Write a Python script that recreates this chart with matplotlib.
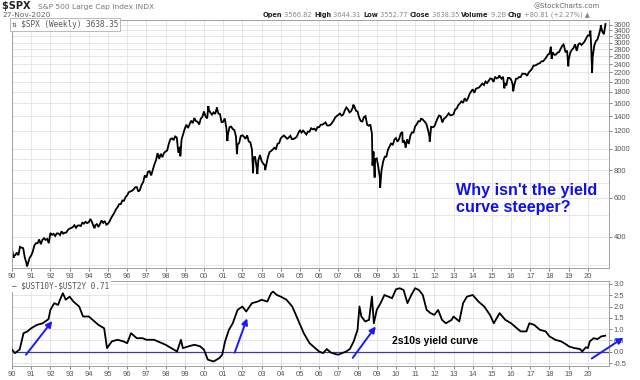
import numpy as np
import matplotlib
matplotlib.use('Agg')
import matplotlib.pyplot as plt

# S&P 500 month-end closes, Jan 1990 .. Nov 2020
spx_monthly = [
    329, 331, 340, 331, 361, 358, 356, 323, 306, 304, 322, 330,
    344, 367, 375, 375, 390, 371, 388, 395, 388, 392, 375, 417,
    409, 413, 404, 415, 415, 408, 424, 414, 418, 419, 431, 436,
    439, 443, 452, 440, 450, 451, 448, 464, 459, 468, 462, 466,
    482, 467, 446, 451, 457, 444, 458, 475, 463, 472, 454, 459,
    470, 487, 501, 515, 533, 545, 562, 562, 584, 582, 605, 616,
    636, 641, 646, 654, 669, 671, 640, 652, 687, 705, 757, 741,
    786, 791, 757, 801, 848, 885, 954, 899, 947, 915, 955, 970,
    980, 1049, 1102, 1112, 1091, 1134, 1121, 957, 1017, 1099, 1164, 1229,
    1280, 1238, 1286, 1335, 1302, 1373, 1329, 1320, 1283, 1363, 1389, 1469,
    1394, 1366, 1499, 1452, 1421, 1455, 1431, 1518, 1437, 1429, 1315, 1320,
    1366, 1240, 1160, 1249, 1256, 1224, 1211, 1134, 1041, 1060, 1139, 1148,
    1130, 1107, 1147, 1077, 1067, 990, 912, 916, 815, 886, 936, 880,
    856, 841, 848, 917, 964, 975, 990, 1008, 996, 1051, 1058, 1112,
    1131, 1145, 1126, 1107, 1121, 1141, 1102, 1104, 1115, 1130, 1174, 1212,
    1181, 1204, 1181, 1157, 1192, 1191, 1234, 1220, 1229, 1207, 1249, 1248,
    1280, 1281, 1295, 1311, 1270, 1270, 1277, 1304, 1336, 1378, 1401, 1418,
    1438, 1407, 1421, 1482, 1531, 1503, 1455, 1474, 1527, 1549, 1481, 1468,
    1379, 1331, 1323, 1386, 1400, 1280, 1267, 1283, 1166, 969, 896, 903,
    826, 735, 798, 873, 919, 919, 987, 1021, 1057, 1036, 1096, 1115,
    1074, 1104, 1169, 1187, 1089, 1031, 1102, 1049, 1141, 1183, 1181, 1258,
    1286, 1327, 1326, 1364, 1345, 1321, 1292, 1219, 1131, 1253, 1247, 1258,
    1312, 1366, 1408, 1398, 1310, 1362, 1379, 1407, 1441, 1412, 1416, 1426,
    1498, 1515, 1569, 1598, 1631, 1606, 1686, 1633, 1682, 1757, 1806, 1848,
    1783, 1859, 1872, 1884, 1924, 1960, 1931, 2003, 1972, 2018, 2068, 2059,
    1995, 2105, 2068, 2086, 2107, 2063, 2104, 1972, 1920, 2079, 2080, 2044,
    1940, 1932, 2060, 2065, 2097, 2099, 2174, 2171, 2168, 2126, 2199, 2239,
    2279, 2364, 2363, 2384, 2412, 2423, 2470, 2472, 2519, 2575, 2648, 2674,
    2824, 2714, 2641, 2648, 2705, 2718, 2816, 2902, 2914, 2712, 2760, 2507,
    2704, 2784, 2834, 2946, 2752, 2942, 2980, 2926, 2977, 3038, 3141, 3231,
    3226, 2954, 2585, 2912, 3044, 3100, 3271, 3500, 3363, 3270, 3638,
]
# intra-month extremes (decimal year, level)
spx_extra_t = [1990.0, 1990.08, 1990.78, 1994.30, 1998.77, 2000.23, 2000.67,
               2001.22, 2001.72, 2002.56, 2002.78, 2003.19, 2007.78, 2008.78,
               2008.89, 2009.18, 2010.35, 2010.50, 2011.33, 2011.76, 2015.39,
               2015.65, 2016.11, 2018.07, 2018.11, 2018.73, 2018.98, 2020.13,
               2020.22, 2020.67]
spx_extra_v = [353, 322, 295, 438, 923, 1553, 1530,
               1081, 944, 775, 768, 800, 1576, 839,
               741, 667, 1066, 1011, 1370, 1075, 2134,
               1867, 1810, 2872, 2533, 2940, 2346, 3393,
               2192, 3588]

# 10y - 2y Treasury spread
spread_t = [1990.0, 1990.15, 1990.4, 1990.6, 1990.8, 1991.0, 1991.3, 1991.6, 1991.9,
            1992.0, 1992.2, 1992.4, 1992.5, 1992.65, 1992.8, 1993.0, 1993.2, 1993.5,
            1993.7, 1994.0, 1994.2, 1994.5, 1994.8, 1994.95, 1995.2, 1995.5, 1995.8,
            1996.0, 1996.2, 1996.5, 1996.8, 1997.0, 1997.4, 1997.8, 1998.0, 1998.3,
            1998.6, 1998.8, 1998.9, 1999.2, 1999.5, 1999.8, 2000.0, 2000.2, 2000.5,
            2000.8, 2000.95, 2001.1, 2001.3, 2001.5, 2001.75, 2002.0, 2002.2, 2002.5,
            2002.8, 2003.0, 2003.3, 2003.5, 2003.6, 2003.8, 2004.0, 2004.3, 2004.6,
            2004.9, 2005.2, 2005.5, 2005.8, 2006.0, 2006.2, 2006.4, 2006.6, 2006.8,
            2007.0, 2007.2, 2007.4, 2007.6, 2007.8, 2008.0, 2008.1, 2008.2, 2008.4,
            2008.6, 2008.75, 2008.85, 2009.0, 2009.2, 2009.4, 2009.6, 2009.8, 2010.0,
            2010.2, 2010.4, 2010.6, 2010.8, 2011.0, 2011.2, 2011.4, 2011.6, 2011.8,
            2012.0, 2012.2, 2012.4, 2012.6, 2012.9, 2013.0, 2013.3, 2013.5, 2013.7,
            2014.0, 2014.3, 2014.6, 2014.9, 2015.1, 2015.4, 2015.7, 2016.0, 2016.3,
            2016.5, 2016.8, 2016.95, 2017.2, 2017.5, 2017.8, 2018.0, 2018.3, 2018.6,
            2018.9, 2019.0, 2019.3, 2019.6, 2019.7, 2019.9, 2020.0, 2020.1, 2020.3,
            2020.5, 2020.7, 2020.9]
spread_v = [0.09, -0.06, 0.10, 0.82, 0.90, 1.04, 1.19, 1.26, 1.44,
            1.85, 2.15, 2.07, 2.30, 2.59, 2.30, 2.44, 2.22, 2.00,
            1.56, 1.56, 1.41, 1.19, 1.04, 0.16, 0.46, 0.53, 0.46,
            0.38, 0.82, 0.60, 0.60, 0.53, 0.53, 0.38, 0.31, 0.16,
            0.01, 0.53, 0.16, 0.24, 0.31, 0.24, 0.09, -0.35, -0.43,
            -0.28, -0.13, 0.46, 0.97, 1.26, 1.85, 2.00, 1.78, 2.15,
            2.22, 2.30, 2.22, 2.59, 2.66, 2.51, 2.44, 2.30, 2.00,
            1.41, 0.82, 0.38, 0.16, 0.01, -0.06, 0.12, -0.03, -0.09,
            -0.13, -0.06, 0.01, 0.12, 0.46, 0.97, 2.00, 1.56, 1.34,
            1.41, 2.44, 1.26, 1.85, 2.15, 2.51, 2.44, 2.37, 2.76,
            2.81, 2.73, 2.15, 2.51, 2.81, 2.73, 2.51, 1.85, 1.71,
            1.63, 1.85, 1.41, 1.26, 1.41, 1.56, 1.34, 2.15, 2.44,
            2.51, 2.22, 2.00, 1.63, 1.26, 1.71, 1.41, 1.26, 1.04,
            0.90, 0.90, 1.26, 1.19, 0.97, 0.90, 0.68, 0.53, 0.46,
            0.31, 0.24, 0.16, 0.12, 0.01, 0.20, 0.16, 0.46, 0.60,
            0.56, 0.68, 0.71]

spx_ticks = [400, 600, 800, 1000, 1200, 1400, 1600, 1800, 2000, 2200, 2400,
             2600, 2800, 3000, 3200, 3400, 3600]
spx_minor = [300, 500, 700, 900]
spread_ticks = [-0.5, 0.0, 0.5, 1.0, 1.5, 2.0, 2.5, 3.0]
years = list(range(1990, 2021))
year_labels = ['%02d' % (y % 100) for y in years]

# merge month-end closes with the intra-month extremes
month_t = 1990 + np.arange(1, len(spx_monthly) + 1) / 12.0
t_all = np.concatenate([month_t, spx_extra_t])
v_all = np.concatenate([spx_monthly, spx_extra_v])
order = np.argsort(t_all)
t_all, v_all = t_all[order], v_all[order]

W, H = 640, 380
fig = plt.figure(figsize=(6.4, 3.8), dpi=100)
fig.patch.set_facecolor('white')

def px(x0, y0, x1, y1):
    return [x0 / W, 1 - y1 / H, (x1 - x0) / W, (y1 - y0) / H]

ax1 = fig.add_axes(px(12, 20, 609, 268))
ax2 = fig.add_axes(px(12, 281, 609, 366))

tick_kw = dict(labelsize=5.5, colors='#555555', length=2, width=0.5, pad=1.5)
grid_c = '#e2e2e2'
for ax in (ax1, ax2):
    ax.set_xlim(1990.0, 2021.1)
    ax.set_xticks(years)
    ax.set_xticklabels(year_labels)
    ax.yaxis.tick_right()
    ax.tick_params(axis='both', **tick_kw)
    ax.grid(True, color=grid_c, lw=0.6)
    ax.set_axisbelow(True)
    for s in ax.spines.values():
        s.set_color('#a0a0a0')
        s.set_linewidth(0.7)
    for lab in ax.get_xticklabels() + ax.get_yticklabels():
        lab.set_family('Liberation Sans')

# upper panel: S&P 500 on log scale
ax1.set_yscale('log')
ax1.set_ylim(290, 3790)
ax1.set_yticks(spx_ticks)
ax1.set_yticklabels([str(v) for v in spx_ticks], family='Liberation Sans')
ax1.yaxis.set_minor_locator(matplotlib.ticker.FixedLocator(spx_minor))
ax1.yaxis.set_minor_formatter(matplotlib.ticker.NullFormatter())
ax1.tick_params(axis='y', which='minor', length=0)
ax1.grid(True, which='minor', axis='y', color=grid_c, lw=0.6)
ax1.plot(t_all, v_all, color='black', lw=1.3, solid_joinstyle='miter')

ax1.text(0.0, 1.0, '⇅ \\$SPX (Weekly) 3638.35', transform=ax1.transAxes,
         va='top', ha='left', fontsize=5.6, color='#555555',
         family=['DejaVu Sans Mono', 'DejaVu Sans'],
         bbox=dict(fc='white', ec='#a0a0a0', lw=0.5, boxstyle='square,pad=0.25'))

fig.text(456 / W, 1 - 183 / H, "Why isn't the yield\ncurve steeper?",
         color='#1010ee', fontsize=11.6, fontweight='bold', va='top', ha='left',
         family='Liberation Sans', linespacing=1.15)

# lower panel: 2s10s spread
ax2.set_ylim(-0.63, 3.13)
ax2.set_yticks(spread_ticks)
ax2.set_yticklabels(['%.1f' % v for v in spread_ticks], family='Liberation Sans')
ax2.axhline(0, color='#3c3ca0', lw=0.9, zorder=2)
ax2.plot(spread_t, spread_v, color='black', lw=1.3, zorder=3)

ax2.text(0.0, 1.0, '\u2014 \\$UST10Y-\\$UST2Y 0.71', transform=ax2.transAxes,
         va='top', ha='left', fontsize=5.6, color='#555555',
         family=['DejaVu Sans Mono', 'DejaVu Sans'],
         bbox=dict(fc='white', ec='none', boxstyle='square,pad=0.25'))
ax2.text(2009.8, 0.49, '2s10s yield curve', fontsize=7.5, fontweight='bold',
         family='Liberation Sans', ha='left', va='center', zorder=4)

arrows = [((1990.73, -0.13), (1992.1, 1.36)),
          ((2001.6, -0.04), (2002.25, 1.48)),
          ((2007.75, -0.27), (2008.95, 1.12)),
          ((2020.2, -0.30), (2021.85, 0.62))]
for (x0, y0), (x1, y1) in arrows:
    ax2.annotate('', xy=(x1, y1), xytext=(x0, y0), annotation_clip=False,
                 arrowprops=dict(arrowstyle='-|>', color='#1a1aff', lw=1.4,
                                 mutation_scale=9, shrinkA=0, shrinkB=0))

# header lines
fig.canvas.draw()
rend = fig.canvas.get_renderer()

def put_row(x, y, parts, size):
    for txt, bold, col in parts:
        t = fig.text(x / W, 1 - y / H, txt, fontsize=size, color=col,
                     fontweight='bold' if bold else 'normal', va='center',
                     ha='left', family=['DejaVu Sans'])
        x += t.get_window_extent(rend).width

put_row(2, 6, [('\\$SPX ', True, '#222222')], 7)
put_row(38, 6.5, [('S&P 500 Large Cap Index INDX', False, '#777777')], 5.4)
put_row(2, 15, [('27-Nov-2020', False, '#666666')], 5.4)
put_row(263, 15, [('Open', True, '#222222'), (' 3566.82 ', False, '#888888'),
                  ('High', True, '#222222'), (' 3644.31 ', False, '#888888'),
                  ('Low', True, '#222222'), (' 3552.77 ', False, '#888888'),
                  ('Close', True, '#222222'), (' 3638.35 ', False, '#888888'),
                  ('Volume', True, '#222222'), (' 9.2B ', False, '#888888'),
                  ('Chg', True, '#222222'), (' +80.81 (+2.27%) \u25b2', False, '#888888')],
        4.8)
fig.text(600 / W, 1 - 6 / H, '@StockCharts.com', fontsize=5, color='#666666',
         ha='right', va='center', family='DejaVu Sans')

fig.savefig('out.png', dpi=100)
